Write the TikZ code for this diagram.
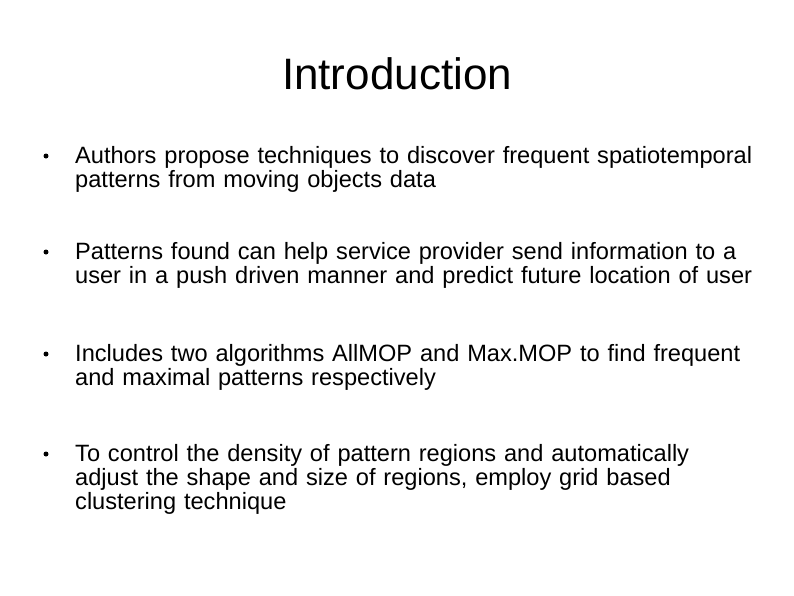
\documentclass[tikz,border=0pt]{standalone}
\usepackage{fontspec}
\setmainfont{Liberation Sans}
\begin{document}
\begin{tikzpicture}[x=1pt,y=1pt,
  item/.style={anchor=base west,inner sep=0pt,align=left,text width=720pt,font=\fontsize{23.6}{24}\selectfont},
  dot/.style={circle,fill=black,inner sep=0pt,minimum size=5pt}]
\useasboundingbox[fill=white] (0,0) rectangle (794,-595);
\node[anchor=base,inner sep=0pt,font=\fontsize{44}{50}\selectfont] (title) at (397,-89) {Introduction};
\node[item] (b1) at (75,-163) {Authors propose techniques to discover frequent spatiotemporal\\patterns from moving objects data};
\node[item] (b2) at (75,-259) {Patterns found can help service provider send information to a\\user in a push driven manner and predict future location of user};
\node[item] (b3) at (75,-361) {Includes two algorithms AllMOP and Max.MOP to find frequent\\and maximal patterns respectively};
\node[item] (b4) at (75,-461) {To control the density of pattern regions and automatically\\adjust the shape and size of regions, employ grid based\\clustering technique};
\node[dot] (d1) at (46,-156) {};
\node[dot] (d2) at (46,-252) {};
\node[dot] (d3) at (46,-354) {};
\node[dot] (d4) at (46,-454) {};
\end{tikzpicture}
\end{document}
